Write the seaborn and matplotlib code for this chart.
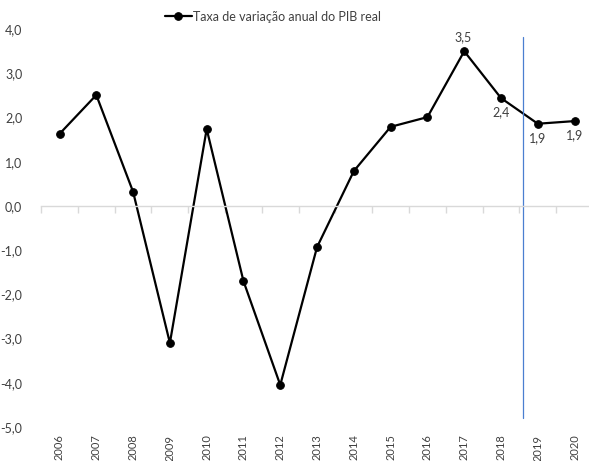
import numpy as np
import pandas as pd
import matplotlib
matplotlib.use("Agg")
import matplotlib.pyplot as plt
import seaborn as sns
from matplotlib.ticker import FuncFormatter

# data
years = ["2006", "2007", "2008", "2009", "2010", "2011", "2012", "2013",
         "2014", "2015", "2016", "2017", "2018", "2019", "2020"]
pib = [1.63, 2.51, 0.32, -3.1, 1.74, -1.70, -4.05, -0.93, 0.79, 1.79, 2.01,
       3.5, 2.44, 1.86, 1.92]
label_years = ["2017", "2018", "2019", "2020"]
label_above = ["2017"]
split_pos = 12.6  # vertical marker between 2018 and 2019

sns.set_style("white")
plt.rcParams["font.family"] = ["Lato", "DejaVu Sans"]
text_col = "#404040"

df = pd.DataFrame({"pos": np.arange(len(years)), "ano": years, "pib": pib})

fig = plt.figure(figsize=(5.89, 4.61), dpi=100)
ax = fig.add_axes([0.0698, 0.0738, 0.937, 0.863])

sns.lineplot(data=df, x="pos", y="pib", ax=ax, color="black", linewidth=1.6,
             marker="o", markersize=5.5, markeredgecolor="black",
             label="Taxa de variação anual do PIB real")

# vertical blue separator
ax.plot([split_pos, split_pos], [-4.8, 3.82], color="#4a7fd0", linewidth=0.9)

# data labels
for _, r in df[df["ano"].isin(label_years)].iterrows():
    txt = f"{r['pib']:.1f}".replace(".", ",")
    if r["ano"] in label_above:
        ax.annotate(txt, (r["pos"], r["pib"]), xytext=(-1, 6), textcoords="offset points",
                    ha="center", va="bottom", fontsize=9, color=text_col)
    else:
        ax.annotate(txt, (r["pos"], r["pib"]), xytext=(0, -6), textcoords="offset points",
                    ha="center", va="top", fontsize=9, color=text_col)

ax.set_xlim(-0.5, len(years) - 0.5)
ax.set_ylim(-5, 4)
ax.set_yticks(np.arange(-5, 4.1, 1))
ax.yaxis.set_major_formatter(FuncFormatter(lambda v, p: f"{v:.1f}".replace(".", ",")))

ax.set_xticks(df["pos"])
ax.set_xticklabels(years)
ax.set_xticks(np.arange(-0.5, len(years), 1), minor=True)

# zero line acts as the category axis
for s in ["left", "right", "bottom"]:
    ax.spines[s].set_visible(False)
ax.spines["top"].set_position(("data", 0))
ax.spines["top"].set_color("#d9d9d9")
ax.spines["top"].set_linewidth(1.0)
ax.tick_params(axis="x", which="major", bottom=False, top=False, labelbottom=True,
               labeltop=False, labelsize=8, labelcolor=text_col, pad=2,
               labelrotation=90)
ax.tick_params(axis="x", which="minor", bottom=False, top=True, direction="in",
               length=5, color="#d9d9d9", width=1.0)
ax.tick_params(axis="y", left=False, labelsize=9, labelcolor=text_col, pad=10)

ax.set_xlabel("")
ax.set_ylabel("")

ax.legend(loc="upper center", bbox_to_anchor=(0.42, 1.075), frameon=False,
          fontsize=9, handlelength=2.2, handletextpad=0.1, labelcolor=text_col)

fig.savefig("out.png", dpi=100)
